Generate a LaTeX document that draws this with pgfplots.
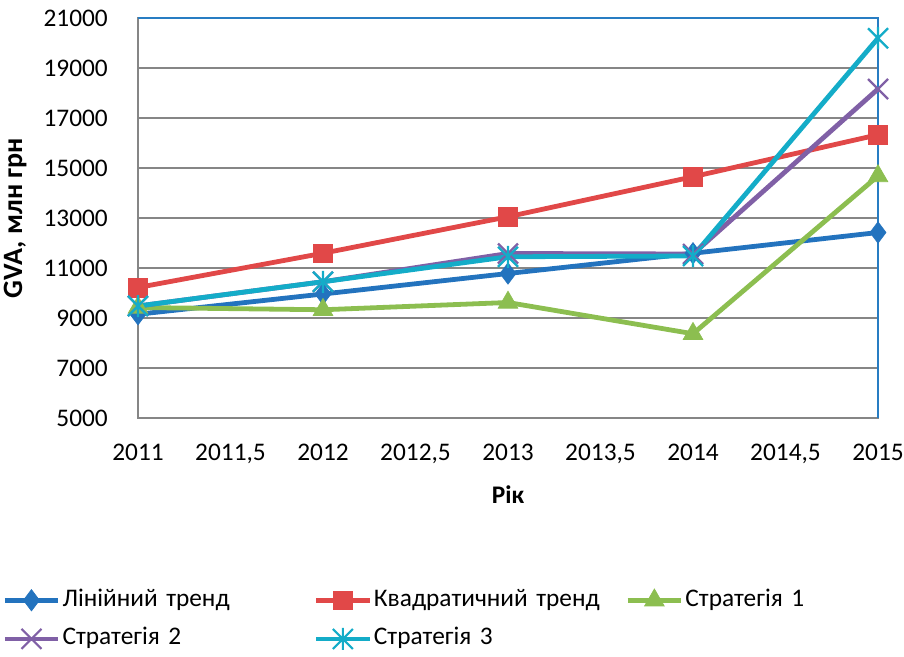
\documentclass[border=0pt]{standalone}
\usepackage{fontspec}
\setmainfont{Carlito}
\usepackage{pgfplots}
\pgfplotsset{compat=1.18}
\definecolor{cblue}{RGB}{35,115,190}
\definecolor{cred}{RGB}{225,72,72}
\definecolor{cgreen}{RGB}{140,190,80}
\definecolor{cpurple}{RGB}{128,96,166}
\definecolor{ccyan}{RGB}{20,172,200}
\definecolor{gridgray}{RGB}{134,134,134}
\definecolor{borderblue}{RGB}{40,125,195}
\pgfdeclareplotmark{myx}{%
  \pgfpathmoveto{\pgfqpoint{-\pgfplotmarksize}{-\pgfplotmarksize}}%
  \pgfpathlineto{\pgfqpoint{\pgfplotmarksize}{\pgfplotmarksize}}%
  \pgfpathmoveto{\pgfqpoint{-\pgfplotmarksize}{\pgfplotmarksize}}%
  \pgfpathlineto{\pgfqpoint{\pgfplotmarksize}{-\pgfplotmarksize}}%
  \pgfusepathqstroke}
\pgfdeclareplotmark{mystar}{%
  \pgfpathmoveto{\pgfqpoint{-\pgfplotmarksize}{-\pgfplotmarksize}}%
  \pgfpathlineto{\pgfqpoint{\pgfplotmarksize}{\pgfplotmarksize}}%
  \pgfpathmoveto{\pgfqpoint{-\pgfplotmarksize}{\pgfplotmarksize}}%
  \pgfpathlineto{\pgfqpoint{\pgfplotmarksize}{-\pgfplotmarksize}}%
  \pgfpathmoveto{\pgfqpoint{0pt}{-1.1\pgfplotmarksize}}%
  \pgfpathlineto{\pgfqpoint{0pt}{1.1\pgfplotmarksize}}%
  \pgfusepathqstroke}
\newcommand{\fs}{\fontsize{19}{22}\selectfont}
\begin{document}
\begin{tikzpicture}
\begin{axis}[
  at={(0,0)}, anchor=south west,
  scale only axis, width=555pt, height=300pt,
  xmin=2011, xmax=2015, ymin=5000, ymax=21000,
  xtick={2011,2011.5,2012,2012.5,2013,2013.5,2014,2014.5,2015},
  ytick={5000,7000,9000,11000,13000,15000,17000,19000,21000},
  scaled x ticks=false, scaled y ticks=false,
  /pgf/number format/use comma,
  /pgf/number format/1000 sep={},
  /pgf/number format/assume math mode=true,
  ymajorgrids,
  grid style={gridgray, line width=1.4pt},
  axis line style={gridgray, line width=1.4pt},
  major tick length=0pt,
  tick label style={font=\fs, black},
  xticklabel style={anchor=center, yshift=-25.5pt, text height=12pt, text depth=0pt},
  yticklabel style={anchor=east, xshift=-17.5pt},
  ylabel={GVA, млн грн},
  ylabel style={font=\bfseries\fontsize{21}{24}\selectfont, at={(axis description cs:-0.166,0.5)}, anchor=center},
  xlabel={Рік},
  xlabel style={font=\bfseries\fs, at={(axis description cs:0.5,-0.1925)}, anchor=center},
  clip=false,
  line width=3.6pt,
  legend columns=3,
  legend cell align=left,
  legend style={at={(axis description cs:-0.1865,-0.418)}, anchor=north west,
    draw=none, fill=none, inner sep=0pt, font=\fs, row sep=10pt,
    nodes={text width=187pt, inner xsep=1.5pt, inner ysep=0pt, text height=14pt, text depth=5pt, align=left}},
  legend image code/.code={\draw[mark repeat=2,mark phase=2,#1] plot coordinates {(0pt,0pt) (20pt,0pt) (40pt,0pt)};},
]
\draw[borderblue, line width=1.6pt] (rel axis cs:0,1) -- (rel axis cs:1,1) -- (rel axis cs:1,0);
\addplot[cblue, mark=diamond*, mark size=8pt, mark options={line width=0.5pt}] coordinates
  {(2011,9150) (2012,9960) (2013,10780) (2014,11590) (2015,12420)};
\addlegendentry{Лінійний тренд}
\addplot[cred, mark=square*, mark size=7pt, mark options={line width=0.5pt}] coordinates
  {(2011,10220) (2012,11590) (2013,13050) (2014,14650) (2015,16330)};
\addlegendentry{Квадратичний тренд}
\addplot[cgreen, mark=triangle*, mark size=8.5pt, mark options={line width=0.5pt}] coordinates
  {(2011,9420) (2012,9330) (2013,9620) (2014,8370) (2015,14680)};
\addlegendentry{Стратегія 1}
\addplot[cpurple, mark=myx, mark size=7.5pt, mark options={line width=1.6pt}] coordinates
  {(2011,9480) (2012,10450) (2013,11580) (2014,11560) (2015,18160)};
\addlegendentry{Стратегія 2}
\addplot[ccyan, mark=mystar, mark size=7.5pt, mark options={line width=1.6pt}] coordinates
  {(2011,9480) (2012,10450) (2013,11450) (2014,11480) (2015,20190)};
\addlegendentry{Стратегія 3}
\end{axis}
\pgfresetboundingbox
\path[use as bounding box] (-103.5pt,-179.25pt) rectangle (574.5pt,313.5pt);
\end{tikzpicture}
\end{document}
